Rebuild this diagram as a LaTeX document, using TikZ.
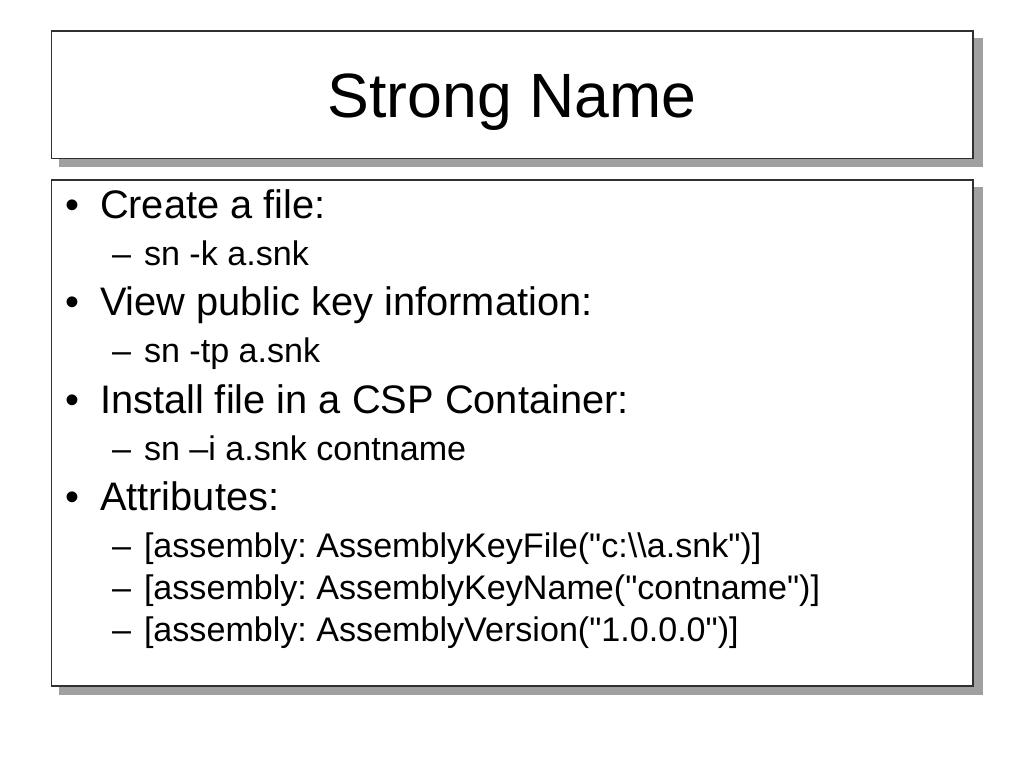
\documentclass[tikz,border=0pt]{standalone}
\usepackage{fontspec}
\setmainfont{Liberation Sans}[Ligatures=TeXOff]
\begin{document}
\frenchspacing
\begin{tikzpicture}[x=1pt,y=-1pt,
  shadowbox/.style={fill=shadowgray,draw=none},
  framebox/.style={fill=white,draw=framegray,line width=1.4pt},
  txt/.style={inner sep=0pt,outer sep=0pt,text=black},
  titletext/.style={txt,anchor=base,font=\fontsize{62.6}{75}\selectfont},
  lone/.style={txt,anchor=base west,font=\fontsize{39.8}{48}\selectfont},
  ltwo/.style={txt,anchor=base west,font=\fontsize{34.1}{41}\selectfont},
  bulletmark/.style={txt,anchor=base,font=\fontsize{39.8}{48}\selectfont},
  dashmark/.style={txt,anchor=base west,font=\fontsize{34.1}{41}\selectfont}]
\definecolor{shadowgray}{HTML}{A0A0A0}
\definecolor{framegray}{HTML}{303030}
\useasboundingbox[fill=white] (0,0) rectangle (1024,768);
% title box
\fill[shadowbox] (59,38) rectangle (982.5,167);
\draw[framebox] (51.5,31) rectangle (973,158.5);
% body box
\fill[shadowbox] (59,187) rectangle (982.5,695);
\draw[framebox] (51.5,180) rectangle (973,686);
% title
\node[titletext] (title) at (512,117) {Strong Name};
% bullets level 1
\node[bulletmark] (b1) at (72,218) {•};
\node[lone] (l1) at (100,218) {Create a file:};
\node[dashmark] (d1) at (112,265) {–};
\node[ltwo] (s1) at (144,265) {sn -k a.snk};
\node[bulletmark] (b2) at (72,315) {•};
\node[lone] (l2) at (100,315) {View public key information:};
\node[dashmark] (d2) at (112,362) {–};
\node[ltwo] (s2) at (144,362) {sn -tp a.snk};
\node[bulletmark] (b3) at (72,413) {•};
\node[lone] (l3) at (100,413) {Install file in a CSP Container:};
\node[dashmark] (d3) at (112,460) {–};
\node[ltwo] (s3) at (144,460) {sn –i a.snk contname};
\node[bulletmark] (b4) at (72,510) {•};
\node[lone] (l4) at (100,510) {Attributes:};
\node[dashmark] (d4) at (112,557) {–};
\node[ltwo] (s4) at (144,557) {[assembly: AssemblyKeyFile("c:\textbackslash\textbackslash a.snk")]};
\node[dashmark] (d5) at (112,599) {–};
\node[ltwo] (s5) at (144,599) {[assembly: AssemblyKeyName("contname")]};
\node[dashmark] (d6) at (112,641) {–};
\node[ltwo] (s6) at (144,641) {[assembly: AssemblyVersion("1.0.0.0")]};
\end{tikzpicture}
\end{document}
